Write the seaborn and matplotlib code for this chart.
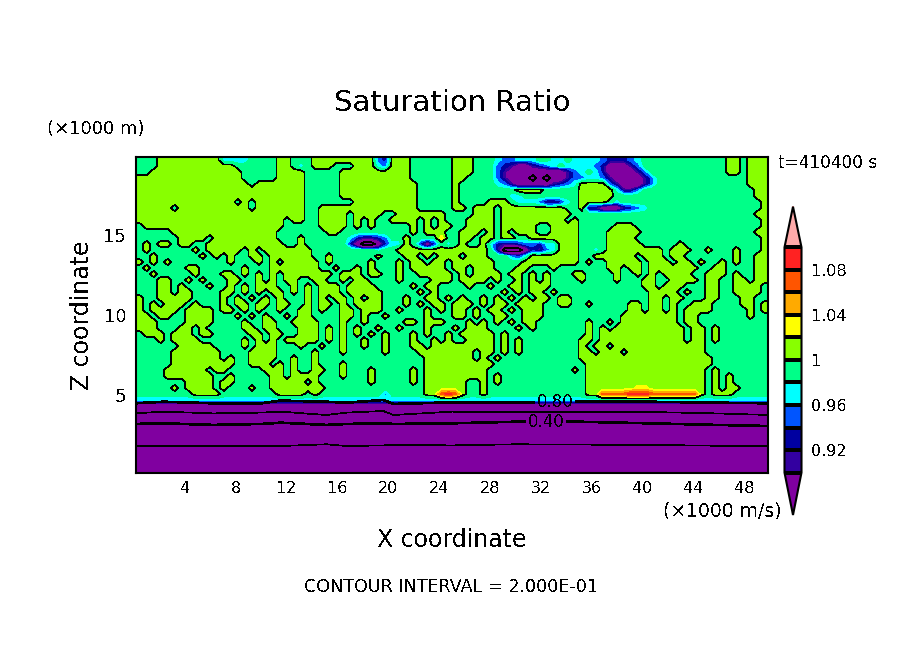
import numpy as np
import matplotlib
matplotlib.use("Agg")
import matplotlib.pyplot as plt
from matplotlib.colors import ListedColormap, BoundaryNorm
from matplotlib.ticker import MultipleLocator
import seaborn as sns

sns.set_style("white")
plt.rcParams["font.family"] = ["DejaVu Sans"]
plt.rcParams["text.antialiased"] = False
plt.rcParams["lines.antialiased"] = False
plt.rcParams["text.color"] = "black"
plt.rcParams["xtick.color"] = "black"
plt.rcParams["ytick.color"] = "black"

# class of the field in each cell of the upper domain
CLASS_VALUE = {".": 0.99, "o": 1.01, "c": 0.97, "b": 0.95, "d": 0.93, "i": 0.91, "p": 0.85, "k": 0.75,
               "y": 1.03, "a": 1.05, "r": 1.07, "R": 1.09}
FIELD_ROWS = [
    "...ooooooo oocccc.... oo...ooooo oooobdooo. .....ooo.. .cbbccc..c c.ccccbddd bc........ ....oo.ooo",
    "...ooooooo oooo...... oo.c.ooo.. .ooocbooo. .....ooo.. .bdippidbc .ccccbdppp ib........ ....oo.ooo",
    "..oooooooo ooooo..... oooo.....o ooooooooo. .....ooo.. .bippppppp pibc.cdppp pib....... ....oo.ooo",
    "oooooooooo ooooo..... oooo.....o ooooooooo. .....oo... .bipppkpkp pibbccbipp ppib...... .......ooo",
    "oooooooooo oooooo.ooo oooo.....o oooooooooo .....o.... .cbipppppi dbcoooobip ppib...... .......ooo",
    "oooooooooo oooooooooo oooo.....o oooooooooo .....o.... ....oooo.. ...oooooci ib........ ........oo",
    "oooooooooo oooooooooo oooo.....o oooooooooo .....o.... ...cc..... ...ooooo.. .......... ........oo",
    "oooooooooo oooo.o.ooo oooo...... .ooooooooo .....o.... ooo.cccbii dc.oooo.c. .......... .........o",
    "ooooo.oooo oooooo.ooo oooo..oooo oooooooooo .....oo.oo o.oooooooo o..oiipppi dbc....... .........o",
    "oooooooooo oooooooooo oooo..oooo .oooo..ooo oooo....oo o.oooooooo oo........ .......... ........oo",
    "oooooooooo oooooooooo o.oo..oooo .o.o..oooo .o.o...ooo o.oooooooo o.o....... .......... .........o",
    ".ooooooooo oooooooooo o.....oooo .o.o.....o .o.oo..ooo o.ooooo..o ooo.....oo o......... .........o",
    ".....ooooo oooooooooo .......oo. .........o .ooo..ooo. o.o.ooo..o ooo....ooo oo........ ........oo",
    "......oooo.ooooooooo... o......cdiidb..o....y.. oo.oo.oo..ooooooo....oo oo..................o",
    ".o.oo.oo..oooooooooo o.. o......dpkkpdcco.dpd.c. o..ocdiidbbdccooo....oo ooo.....o...........o",
    ".o......o.ooooo.o.oo ooo oo.........c..ooooooooo oooo.ikkkpdibcooo..c.oo oooooo.ooo..o...o...o",
    "..o......o.o.o..oo.o ooo oo..o......o...oo.o.ooo .ooo...bdcooooooo..oooo oo.ooo.oo.......o..oo",
    "o.o.o........o...o.o .oo ooo.o.....o...o.oo.oo.o ooooo....oooooooo.o..oo ooo.ooo.oo.o..o.o..oo",
    ".o.....oo......o...o ooo ooo..o..o.o...o.ooooo.o o.ooo...oo...o.......oo .oo.ooooooo..oo....oo",
    "..o.....o...oo.o.o.o .oo ooooo.ooo.oo..o..ooooo. o.oooo.oo.o.o...oo....o ..o.o.oooo..ooo.o..oo",
    "...oo..o.o...oo..o.o .oo ..oo..o.oo....o....ooo. oooo.o..o.o.o....o....o ...oo..oooo.oo..oo.oo",
    "...oo.o...o..o.o.ooo ..o .o.ooo.oooo.....o.oo... .o..o..oo.ooo.......... ...oo.ooo...oo..oooo.",
    "...oo.oo....oo.o.o.o o.o .o.ooo.ooooo.....o.o... ......o.o.oo.o......... ....oooo.o..oo..oooo.",
    "o..ooooo....o.o.o.o. o.. .o.o.oo.o.oo...o..oo.o. o..o.o.o.o.oo.oo....... ....oo.oo...oo...oo..",
    "o.o.ooo.o...o.oo.oo. oo. .o.oo.o.oooo...o.o.oo.o oo.o.oo.oooo..oo..o.... .oo.oo.o..ooo....oo.o",
    "o.oooo.oooo.oo.o.o.. o.. oo.o..oo.ooo..o...o.o.o o.o.oo.o.ooo........... .oo.oo.o.oooo.....o.o",
    "oo.oo..oooo...o.o.o. .o. oo....oo.o..o.....o...o o.o..oo..ooo........... oooooooo.oo.......o..",
    "ooo....oooo....o..oo ..o ooo...o..o.....oo.ooo.. .o.o.o.o.oo.......o..o. oooooooo.oo..........",
    "ooo...oo.o .....oo.oo ... ooo.o.o.o..o..o...o...o .ooo....o.o .......o.o.o ooooooooo.o o.o.......",
    ".ooo.ooo.o o.....oo.o o.. ooo.o.o.o.o.o...o.o..o. ooooo.o.... ...... .o.ooo ooooooooo.o o.o.......",
    "...o.oooo. .....o.o.o .oo ooo.o.o..o..o...o..o.o. .oooo.o.o.. ...... oo.ooo ooooooooo.o o.o.......",
    "......oooo o....o.ooo ... o..o..o..o..o...oo.oooo ooooo.o.o.. ...... o.oo.o ooooooooooo o.........",
    ".....ooooo oo....oooo ... ..o...o.....o....oooooo oo.oo.o.o.. ...... oo.ooo .oooooooooo o.........",
    ".....ooooo oo.o..oooo ..o ..o ............... ooooo oo.o.o..... ...... oooooo ooooooooooo oo........",
    ".....ooooo oooo..ooo. o.o ..o...o ........... ooooo ooooo...... ...... .ooooo ooooooooooo oo........",
    "....oooooo .oo.....oo o.o ..oo..o...o.....o.ooooo oooo....... .....o .ooooo ooooooooooo o.o.......",
    "....oooooo o..o.....o o.o ooo...o...o.....o.ooooo oooo.o..... ...... .ooooo ooooooooooo o.o.o.....",
    ".......ooo o.oo.....o ooo o.o.......o.....o.ooooo o..o.o..... ...... .ooooo ooooooooooo o.o.o.....",
    ".....o.ooo o.o...o..o ooo oooo.............. ooooo o..o....... ...... .ooooo ooyyooooooo o.o.oo....",
    "........oo oo........ ooo o.o.........b..... oorRr o..o....... ...... .oorrr rRRRrrrrrrr o.ooo.....",
    "cccccccccc cccccccccc cccccccccc cccccccccc cccccccccc cccccccccc cccccccccc cccccccccc cccccccccc",
]
FLOOR_VALUE = 0.84

# heights (km) of the labelled isolines in the dry layer, read at these x (km)
LOW_X = [0, 2.3, 6.2, 10, 11.5, 15.1, 16.7, 19.6, 20.4, 25, 30, 35, 40.5, 45.8, 50]
Z_020 = [1.81, 1.81, 1.81, 1.81, 1.81, 1.92, 1.81, 1.85, 1.88, 1.85, 1.92, 1.90, 1.88, 1.83, 1.81]
Z_040 = [3.19, 3.23, 3.13, 3.19, 3.27, 3.13, 3.19, 3.23, 3.19, 3.23, 3.33, 3.33, 3.23, 3.13, 3.06]
Z_060 = [3.85, 3.96, 3.85, 3.90, 3.96, 3.75, 3.90, 4.00, 3.75, 3.96, 3.92, 3.94, 3.94, 3.85, 3.75]
Z_080 = [4.48, 4.58, 4.48, 4.48, 4.65, 4.58, 4.52, 4.69, 4.44, 4.54, 4.52, 4.58, 4.58, 4.52, 4.48]

LEVELS = [0.90, 0.92, 0.94, 0.96, 0.98, 1.00, 1.02, 1.04, 1.06, 1.08, 1.10]
FILL_COLORS = ["#3300A0", "#0000A0", "#0055FF", "#00FFFF", "#00FF88", "#88FF00",
               "#FFFF00", "#FFAA00", "#FF5500", "#FF2222"]
UNDER_COLOR = "#8000A0"
OVER_COLOR = "#FFAAAA"
CBAR_TICKS = [0.92, 0.96, 1.00, 1.04, 1.08]
CBAR_LABELS = ["0.92", "0.96", "1", "1.04", "1.08"]

W, H = 904, 654
XLIM = (0.125, 49.875)
YLIM = (0.125, 19.875)

rows = [r.replace(" ", "").ljust(90, ".")[:90] for r in FIELD_ROWS]
field = np.array([[CLASS_VALUE[c] for c in r] for r in rows])
ncol, nrow = field.shape[1], field.shape[0]
dx = (XLIM[1] - XLIM[0]) / ncol
dz = 6 / 16
x = XLIM[0] + (np.arange(ncol) + 0.5) * dx
z = YLIM[1] - (np.arange(nrow) + 0.5) * dz
x = np.r_[XLIM[0], x, XLIM[1]]
z = np.r_[YLIM[1], z, z[-1] - dz, YLIM[0]]
field = np.vstack([field[0], field, np.full((2, ncol), FLOOR_VALUE)])
field = np.hstack([field[:, :1], field, field[:, -1:]])

cmap = ListedColormap(sns.color_palette(FILL_COLORS))
cmap.set_under(UNDER_COLOR)
cmap.set_over(OVER_COLOR)
norm = BoundaryNorm(LEVELS, cmap.N)

def rect(l, t, r, b):
    return [l / W, 1 - b / H, (r - l) / W, (b - t) / H]

fig = plt.figure(figsize=(W / 100, H / 100), dpi=100, facecolor="white")
ax = fig.add_axes(rect(136, 157, 768, 473))

cf = ax.contourf(x, z, field, levels=LEVELS, cmap=cmap, norm=norm, extend="both", antialiased=False)
ax.contour(x, z, field, levels=[0.8, 1.0], colors="black", linewidths=0.45, antialiased=False)

# each column of the dry layer: value reached at each height
low_heights = np.array([Z_020, Z_040, Z_060, Z_080])
nx = len(LOW_X)
X_low = np.tile(LOW_X, (6, 1))
Y_low = np.vstack([np.full(nx, YLIM[0] - 1), low_heights, low_heights[-1] + 0.1])
V_low = np.vstack([np.full(nx, v) for v in (0.0, 0.2, 0.4, 0.6, 0.8, 0.82)])
ax.contour(X_low, Y_low, V_low, levels=[0.2, 0.6], colors="black", linewidths=0.5, antialiased=False)
cs = ax.contour(X_low, Y_low, V_low, levels=[0.4, 0.8], colors="black", linewidths=1.2, antialiased=False)
labels = ax.clabel(cs, fmt="%.2f", fontsize=12,
                   manual=[(32.4, 3.3), (33.1, 4.52)], inline=True, inline_spacing=2)
for t in labels:
    t.set_rotation(0)

ax.set_xlim(*XLIM)
ax.set_ylim(*YLIM)
ax.xaxis.set_major_locator(MultipleLocator(4))
ax.xaxis.set_minor_locator(MultipleLocator(2))
ax.yaxis.set_major_locator(MultipleLocator(5))
ax.yaxis.set_minor_locator(MultipleLocator(1))
ax.tick_params(which="major", direction="in", top=True, right=True, bottom=True, left=True,
               length=7, width=1.2, color="black")
ax.tick_params(which="minor", direction="in", top=True, right=True, bottom=True, left=True,
               length=3.5, width=1, color="black")
ax.tick_params(axis="x", labelsize=11.5, pad=6)
ax.tick_params(axis="y", labelsize=13, pad=7)
for s in ax.spines.values():
    s.set_visible(True)
    s.set_color("black")
    s.set_linewidth(1.5)

cax = fig.add_axes(rect(784.5, 206.7, 801.5, 515))
cb = fig.colorbar(cf, cax=cax, extend="both", extendfrac=(0.188, 0.18), drawedges=True, spacing="uniform")
cb.set_ticks(CBAR_TICKS, labels=CBAR_LABELS)
cb.ax.tick_params(length=0, labelsize=11.5, pad=7)
cb.ax.minorticks_off()
cb.outline.set_edgecolor("black")
cb.outline.set_linewidth(1.5)
cb.dividers.set_color("black")
cb.dividers.set_linewidth(1.5)

def txt(px, py, s, **kw):
    fig.text(px / W, 1 - py / H, s, va="center", **kw)

txt(452, 103, "Saturation Ratio", ha="center", fontsize=21)
txt(47, 129, "(×1000 m)", ha="left", fontsize=13)
txt(663, 511, "(×1000 m/s)", ha="left", fontsize=13.5)
txt(778, 163, "t=410400 s", ha="left", fontsize=12.2)
txt(452, 540, "X coordinate", ha="center", fontsize=17)
txt(82, 315, "Z coordinate", ha="center", rotation=90, fontsize=17)
txt(451, 587, "CONTOUR INTERVAL = 2.000E-01", ha="center", fontsize=12.6)

fig.savefig("out.png", dpi=100, facecolor="white")
